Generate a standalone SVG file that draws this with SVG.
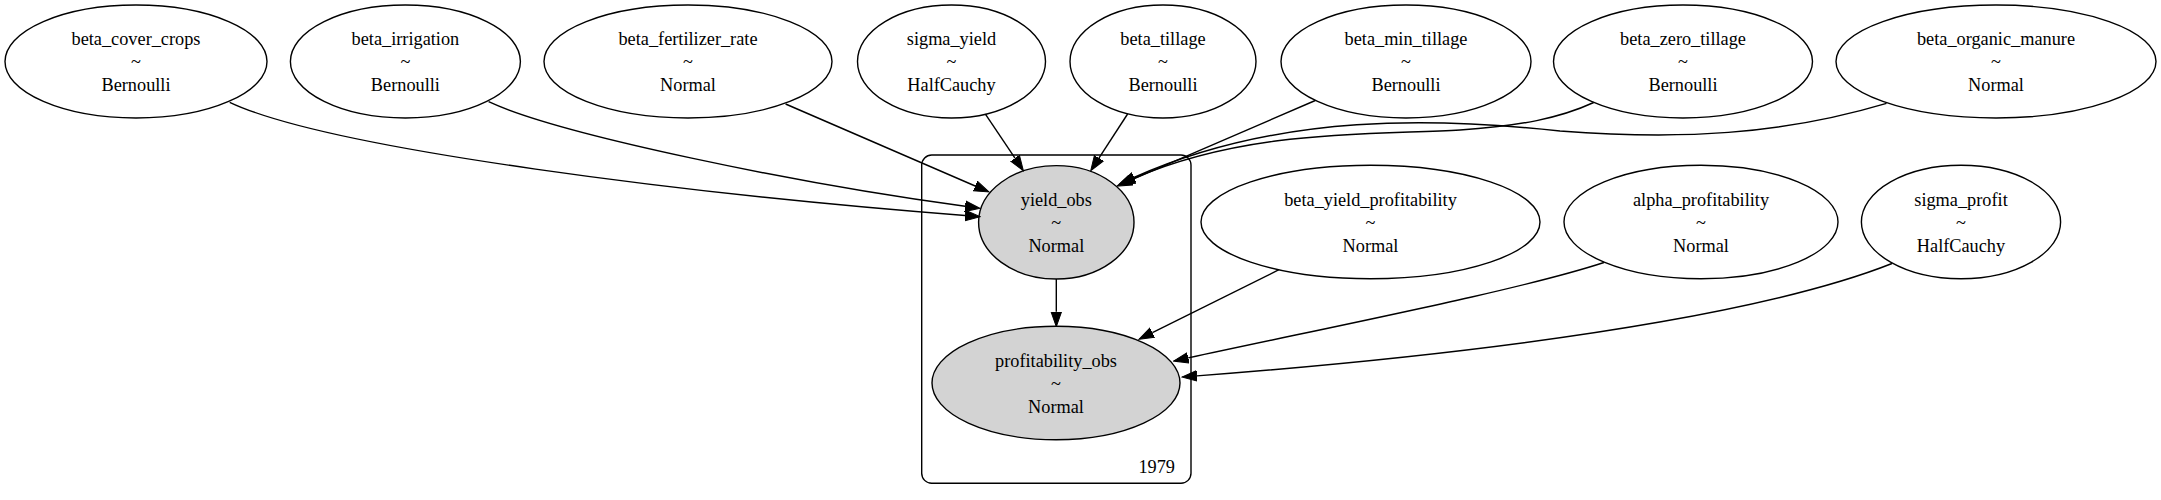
<svg xmlns="http://www.w3.org/2000/svg" width="2161" height="500" viewBox="0 0 2161 500">
<style>
  .n ellipse { fill: #ffffff; stroke: #000000; stroke-width: 1.4; }
  .n.obs ellipse { fill: #d3d3d3; }
  .n text, .plate text { font-family: "Liberation Serif", "Times New Roman", serif; font-size: 18.3px; fill: #000000; text-anchor: middle; }
  .plate rect { fill: none; stroke: #000000; stroke-width: 1.4; }
  .plate text { text-anchor: end; }
  .edges path { fill: none; stroke: #000000; stroke-width: 1.4; marker-end: url(#arrow); }
</style>
<defs>
  <marker id="arrow" markerUnits="userSpaceOnUse" markerWidth="16" markerHeight="12" refX="0" refY="5.3" orient="auto" viewBox="0 0 16 10.6">
    <path d="M0,0 L15,5.3 L0,10.6 Z" fill="#000000" stroke="#000000" stroke-width="1"/>
  </marker>
</defs>
<rect x="0" y="0" width="2161" height="500" fill="#ffffff"/>

<g id="plate_1979" class="plate">
  <rect x="921.7" y="155" width="269.3" height="328.3" rx="10" ry="10"/>
  <text x="1175" y="473">1979</text>
</g>

<g id="beta_cover_crops" class="n">
  <ellipse cx="136" cy="61.5" rx="131" ry="56.5"/>
  <text x="136" y="45">beta_cover_crops</text>
  <text x="136" y="68">~</text>
  <text x="136" y="91">Bernoulli</text>
</g>
<g id="beta_irrigation" class="n">
  <ellipse cx="405.4" cy="61.5" rx="115" ry="56.5"/>
  <text x="405.4" y="45">beta_irrigation</text>
  <text x="405.4" y="68">~</text>
  <text x="405.4" y="91">Bernoulli</text>
</g>
<g id="beta_fertilizer_rate" class="n">
  <ellipse cx="688" cy="61.5" rx="144" ry="56.5"/>
  <text x="688" y="45">beta_fertilizer_rate</text>
  <text x="688" y="68">~</text>
  <text x="688" y="91">Normal</text>
</g>
<g id="sigma_yield" class="n">
  <ellipse cx="951.5" cy="61.5" rx="94" ry="56.5"/>
  <text x="951.5" y="45">sigma_yield</text>
  <text x="951.5" y="68">~</text>
  <text x="951.5" y="91">HalfCauchy</text>
</g>
<g id="beta_tillage" class="n">
  <ellipse cx="1163" cy="61.5" rx="93" ry="56.5"/>
  <text x="1163" y="45">beta_tillage</text>
  <text x="1163" y="68">~</text>
  <text x="1163" y="91">Bernoulli</text>
</g>
<g id="beta_min_tillage" class="n">
  <ellipse cx="1406" cy="61.5" rx="125" ry="56.5"/>
  <text x="1406" y="45">beta_min_tillage</text>
  <text x="1406" y="68">~</text>
  <text x="1406" y="91">Bernoulli</text>
</g>
<g id="beta_zero_tillage" class="n">
  <ellipse cx="1683" cy="61.5" rx="129.5" ry="56.5"/>
  <text x="1683" y="45">beta_zero_tillage</text>
  <text x="1683" y="68">~</text>
  <text x="1683" y="91">Bernoulli</text>
</g>
<g id="beta_organic_manure" class="n">
  <ellipse cx="1996" cy="61.5" rx="160" ry="56.5"/>
  <text x="1996" y="45">beta_organic_manure</text>
  <text x="1996" y="68">~</text>
  <text x="1996" y="91">Normal</text>
</g>

<g id="yield_obs" class="n obs">
  <ellipse cx="1056.3" cy="222.3" rx="77.7" ry="56.7"/>
  <text x="1056.3" y="205.8">yield_obs</text>
  <text x="1056.3" y="228.8">~</text>
  <text x="1056.3" y="251.8">Normal</text>
</g>
<g id="beta_yield_profitability" class="n">
  <ellipse cx="1370.5" cy="222" rx="169.5" ry="56.7"/>
  <text x="1370.5" y="205.5">beta_yield_profitability</text>
  <text x="1370.5" y="228.5">~</text>
  <text x="1370.5" y="251.5">Normal</text>
</g>
<g id="alpha_profitability" class="n">
  <ellipse cx="1701" cy="222" rx="137" ry="56.7"/>
  <text x="1701" y="205.5">alpha_profitability</text>
  <text x="1701" y="228.5">~</text>
  <text x="1701" y="251.5">Normal</text>
</g>
<g id="sigma_profit" class="n">
  <ellipse cx="1961" cy="222" rx="99.6" ry="56.7"/>
  <text x="1961" y="205.5">sigma_profit</text>
  <text x="1961" y="228.5">~</text>
  <text x="1961" y="251.5">HalfCauchy</text>
</g>

<g id="profitability_obs" class="n obs">
  <ellipse cx="1056" cy="383" rx="124" ry="56.7"/>
  <text x="1056" y="366.5">profitability_obs</text>
  <text x="1056" y="389.5">~</text>
  <text x="1056" y="412.5">Normal</text>
</g>

<g id="edges" class="edges">
  <path d="M229.7,102.3 C330,150 700,195 965,215.5"/>
  <path d="M488.6,101.7 C560,135 800,184 965.1,206.3"/>
  <path d="M785.6,104 L975.2,186"/>
  <path d="M985.4,114.2 L1015,158.2"/>
  <path d="M1127.6,114 L1098.9,158.1"/>
  <path d="M1315.3,100.5 L1130.8,180.1"/>
  <path d="M1593.7,102.5 C1560,118 1520,126 1460,130 C1380,135 1250,128 1133.5,178.5"/>
  <path d="M1886.5,103.3 C1780,135 1680,140 1560,131 C1440,118 1280,112 1134,177.5"/>
  <path d="M1056.3,279 L1056.3,311.7"/>
  <path d="M1279,269.7 L1152.4,332.6"/>
  <path d="M1604,262.5 C1520,290 1340,325 1188.2,357.9"/>
  <path d="M1892,263.5 C1800,300 1600,345 1196.9,375.9"/>
</g>
</svg>
